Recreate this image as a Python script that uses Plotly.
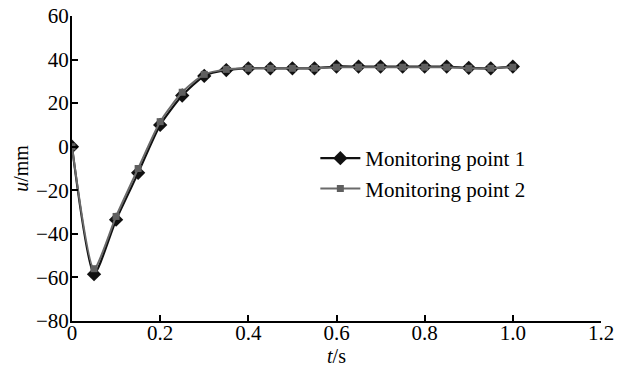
import plotly.graph_objects as go

t = [0, 0.05, 0.1, 0.15, 0.2, 0.25, 0.3, 0.35, 0.4, 0.45, 0.5, 0.55, 0.6, 0.65, 0.7, 0.75, 0.8, 0.85, 0.9, 0.95, 1.0]
point1 = [0, -58.5, -33.5, -12, 10, 23.5, 32.5, 35.2, 36, 36, 36, 36, 36.8, 36.8, 36.8, 36.8, 36.8, 36.8, 36.2, 36, 36.8]
point2 = [0, -56, -32, -10, 11.5, 25, 33.2, 35.5, 36, 36, 36, 36, 36.5, 36.5, 36.5, 36.5, 36.5, 36.5, 36, 36, 36.5]
names = ["Monitoring point 1", "Monitoring point 2"]
x_ticks = [0, 0.2, 0.4, 0.6, 0.8, 1.0, 1.2]
x_tick_text = ["0", "0.2", "0.4", "0.6", "0.8", "1.0", "1.2"]
y_ticks = [-80, -60, -40, -20, 0, 20, 40, 60]

FONT = "Liberation Serif, Times New Roman, serif"

fig = go.Figure()
fig.add_trace(go.Scatter(
    x=t, y=point1, name=names[0], mode="lines+markers",
    line=dict(color="#111111", width=2.2, shape="spline", smoothing=0.6),
    marker=dict(symbol="diamond", size=11, color="#111111"),
))
fig.add_trace(go.Scatter(
    x=t, y=point2, name=names[1], mode="lines+markers",
    line=dict(color="#6a6a6a", width=2, shape="spline", smoothing=0.6),
    marker=dict(symbol="square", size=7, color="#5f5f5f"),
))

axis_common = dict(
    showgrid=False, zeroline=False, showline=True, linecolor="black", linewidth=2,
    ticks="inside", ticklen=6, tickwidth=1.5, tickcolor="black",
    tickfont=dict(family=FONT, size=21, color="black"),
    mirror=False, automargin=False,
)
fig.update_xaxes(range=[0, 1.2], tickvals=x_ticks, ticktext=x_tick_text,
                 title=dict(text="<i>t</i>/s", font=dict(family=FONT, size=20, color="black"), standoff=5),
                 ticklabelstandoff=-8,
                 **axis_common)
fig.update_yaxes(range=[-80, 60], tickvals=y_ticks,
                 title=dict(text="<i>u</i>/mm", font=dict(family=FONT, size=20, color="black"), standoff=2),
                 ticklabelstandoff=-3,
                 **axis_common)

fig.update_layout(
    width=623, height=374,
    margin=dict(l=72, r=22, t=16, b=53),
    paper_bgcolor="white", plot_bgcolor="white",
    font=dict(family=FONT, size=20, color="black"),
    legend=dict(x=0.46, y=0.60, xanchor="left", yanchor="top",
                bgcolor="rgba(0,0,0,0)", font=dict(family=FONT, size=21, color="black"),
                itemwidth=40),
    showlegend=True,
)

fig.write_html("out.html", config={"displayModeBar": False},
               post_script="document.body.style.margin='0';document.body.style.overflow='hidden';")
